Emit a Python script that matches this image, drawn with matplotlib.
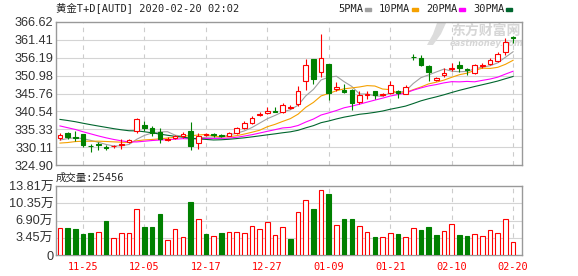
import matplotlib
matplotlib.use("Agg")
import matplotlib.pyplot as plt
from matplotlib.patches import Rectangle, Polygon
import numpy as np
import pandas as pd

W, H = 578, 276

# trading days shown (MM-DD)
dates = ["11-20", "11-21", "11-22", "11-25", "11-26", "11-27", "11-28", "11-29",
         "12-02", "12-03", "12-04", "12-05", "12-06", "12-09", "12-10", "12-11",
         "12-12", "12-13", "12-16", "12-17", "12-18", "12-19", "12-20", "12-23",
         "12-24", "12-25", "12-26", "12-27", "12-30", "12-31", "01-02", "01-03",
         "01-06", "01-07", "01-08", "01-09", "01-10", "01-13", "01-14", "01-15",
         "01-16", "01-17", "01-20", "01-21", "01-22", "01-23", "02-03", "02-04",
         "02-05", "02-06", "02-07", "02-10", "02-11", "02-12", "02-13", "02-14",
         "02-17", "02-18", "02-19", "02-20"]

opens = [332.7, 334.1, 333.0, 333.8, 330.5, 331.0, 330.2, 330.3, 330.7, 331.7,
         334.9, 336.6, 335.6, 334.6, 332.2, 332.9, 333.3, 334.7, 331.3, 333.6,
         333.9, 333.6, 333.5, 334.2, 335.7, 337.2, 339.5, 340.0, 340.7, 340.5,
         341.6, 342.6, 349.3, 355.7, 351.9, 354.3, 347.2, 346.9, 346.9, 343.4,
         345.4, 346.4, 345.2, 345.9, 346.4, 345.7, 356.5, 356.2, 353.8, 349.8,
         351.2, 353.0, 354.0, 352.9, 351.6, 353.9, 354.5, 355.2, 357.8, 362.2]
highs = [334.1, 334.6, 334.8, 334.0, 331.1, 331.6, 330.7, 330.8, 332.4, 332.6,
         338.6, 337.6, 336.3, 335.8, 333.0, 333.6, 334.6, 337.5, 334.2, 334.1,
         334.3, 334.0, 334.4, 336.0, 337.6, 339.2, 340.4, 341.9, 341.7, 343.0,
         342.3, 347.9, 355.9, 355.9, 363.2, 354.5, 349.1, 348.5, 347.2, 346.4,
         346.4, 346.5, 345.9, 349.3, 346.9, 348.3, 357.3, 357.0, 354.0, 350.7,
         353.1, 354.8, 355.2, 353.3, 354.5, 354.8, 356.1, 357.8, 361.9, 362.4]
lows = [332.2, 332.5, 331.9, 330.1, 328.7, 329.4, 329.4, 330.0, 329.7, 331.4,
        334.3, 334.8, 333.4, 331.4, 331.8, 332.6, 332.9, 329.2, 329.5, 333.3,
        333.2, 333.0, 333.3, 334.0, 335.4, 336.8, 339.2, 339.8, 340.3, 340.2,
        341.2, 342.2, 346.7, 348.5, 350.7, 343.8, 346.4, 346.0, 341.0, 342.6,
        344.3, 344.3, 345.0, 345.5, 344.5, 345.5, 355.4, 353.7, 349.5, 349.3,
        350.7, 352.4, 352.1, 351.2, 351.4, 353.3, 354.2, 355.0, 357.0, 360.5]
closes = [333.6, 333.1, 332.8, 330.6, 330.3, 330.8, 330.0, 330.5, 331.0, 332.2,
          338.4, 335.6, 334.1, 332.4, 332.6, 333.3, 334.0, 330.4, 333.5, 333.8,
          333.7, 333.4, 334.2, 335.7, 337.2, 338.7, 339.8, 340.6, 340.5, 342.4,
          341.8, 346.4, 354.2, 350.0, 356.2, 345.8, 347.8, 346.2, 343.1, 345.2,
          345.7, 345.2, 345.5, 348.1, 345.9, 347.6, 356.3, 354.0, 352.1, 350.2,
          351.8, 353.3, 353.1, 352.6, 354.0, 354.2, 355.4, 357.3, 360.8, 362.0]
# closes before the window, only used to seed the moving averages
prior_closes = [342.5, 343.5, 344.0, 343.0, 342.5, 341.5, 342.0, 341.0, 340.5, 339.5,
                343.5, 343.0, 344.0, 342.5, 343.0, 341.0, 340.0, 339.0, 338.5, 338.5,
                331.5, 330.0, 329.5, 330.5, 330.5, 331.0, 331.5, 332.0, 332.85]

volumes = [54200, 54900, 52900, 43000, 44400, 46300, 68700, 34500, 43700, 43700,
           91700, 56800, 56800, 81800, 30600, 52200, 36500, 105500, 72000, 42400,
           38400, 44400, 46300, 46300, 44400, 57500, 52200, 65400, 40400, 56200,
           31200, 85100, 109400, 91700, 129100, 121200, 59500, 72000, 72000, 57500,
           45700, 36500, 35800, 43700, 42400, 35800, 54200, 50300, 56200, 40400,
           47600, 61400, 40400, 38400, 41700, 37800, 49600, 43700, 72000, 25456]
vol_up = [1, 0, 0, 0, 0, 1, 0, 1, 1, 1, 1, 0, 0, 0, 1, 1, 1, 0, 1, 0,
          1, 0, 1, 1, 1, 1, 1, 1, 1, 1, 0, 1, 1, 0, 1, 0, 1, 0, 0, 1,
          1, 0, 1, 1, 0, 1, 1, 0, 0, 0, 1, 1, 0, 0, 1, 1, 1, 1, 1, 1]

price_ticks = ["324.90", "330.11", "335.33", "340.54", "345.76",
               "350.98", "356.19", "361.41", "366.62"]
vol_ticks = ["0", "3.45万", "6.90万", "10.35万", "13.81万"]
vol_max = 138100

ma_periods = [5, 10, 20, 30]
ma_colors = ["#a0a0a0", "#f5a100", "#ff00ff", "#00662e"]

UP = "#ff0000"
DOWN = "#008000"
GRID = "#d4d4d4"
FRAME = "#999999"
MONO = ["DejaVu Sans Mono", "Noto Sans CJK SC"]
SANS = ["Liberation Sans", "Noto Sans CJK SC"]

fig = plt.figure(figsize=(W / 100, H / 100), dpi=100)
fig.patch.set_facecolor("white")

ax = fig.add_axes([56 / W, 1 - 165 / H, 466 / W, 143 / H])
axv = fig.add_axes([56 / W, 1 - 255 / H, 466 / W, 69 / H])

x = np.arange(len(dates))
o = np.array(opens)
c = np.array(closes)
hi = np.array(highs)
lo = np.array(lows)
up = c >= o

# wicks then bodies
ax.vlines(x, lo, hi, colors=np.where(up, UP, DOWN), lw=0.8, zorder=3)
body_h = np.maximum(np.abs(c - o), 0.04)
ax.bar(x, body_h, bottom=np.minimum(o, c), width=0.6,
       facecolor=np.where(up, "white", DOWN), edgecolor=np.where(up, UP, DOWN),
       linewidth=0.8, zorder=4)

# moving averages
all_closes = pd.Series(prior_closes + closes)
n_prior = len(prior_closes)
for p, col in zip(ma_periods, ma_colors):
    ma = all_closes.rolling(p).mean().to_numpy()[n_prior:]
    ax.plot(x, ma, color=col, lw=0.8, zorder=2)

# volume bars
vu = np.array(vol_up, dtype=bool)
axv.bar(x, volumes, width=0.6, facecolor=np.where(vu, "white", DOWN),
        edgecolor=np.where(vu, UP, DOWN), linewidth=0.8, zorder=3)

label_idx = [i for i in range(len(dates)) if i % 8 == 3]

for a in (ax, axv):
    a.set_xlim(-0.52, 60.16)
    for s in a.spines.values():
        s.set_color(FRAME)
        s.set_linewidth(1.0)
    a.tick_params(length=0, pad=2)
    for i in label_idx:
        a.axvline(i, color="#cccccc", lw=0.8, ls=(0, (4, 4)), zorder=1)

pt = [float(t) for t in price_ticks]
ax.set_ylim(pt[0], pt[-1])
ax.set_yticks(pt)
ax.set_yticklabels(price_ticks, family=SANS, fontsize=9.2, color="#333333")
ax.set_xticks([])
for v in pt[1:-1]:
    ax.axhline(v, color=GRID, lw=0.8, zorder=1)

vt = np.linspace(0, vol_max, 5)
axv.set_ylim(0, vol_max)
axv.set_yticks(vt)
axv.set_yticklabels(vol_ticks, family=SANS, fontsize=9.2, color="#333333")
for v in vt[1:-1]:
    axv.axhline(v, color=GRID, lw=0.8, zorder=1)
axv.set_xticks(label_idx)
axv.set_xticklabels([dates[i] for i in label_idx], family=MONO, fontsize=7.4, color=UP)
axv.tick_params(axis="x", pad=5)

# watermark (logo swoosh + name)
logo = [(437, 23), (446, 23), (441, 34), (433, 45), (427, 45), (433, 34)]
ax.add_patch(Polygon([(px / W, 1 - py / H) for px, py in logo], closed=True,
                     transform=fig.transFigure, facecolor="#dcdcdc",
                     edgecolor="none", zorder=1.5))
ax.text(0.923, 0.935, "东方财富网", transform=ax.transAxes, ha="center", va="center",
        family=["Noto Sans CJK SC"], fontsize=10, fontweight="bold", color="#d6d6d6", zorder=1.5)
ax.text(0.925, 0.85, "eastmoney.com", transform=ax.transAxes, ha="center", va="center",
        family=["DejaVu Sans"], fontsize=6, fontweight="bold", style="italic",
        color="#d6d6d6", zorder=1.5)

# header texts
fig.text(56 / W, 1 - 8 / H, "黄金T+D[AUTD] 2020-02-20 02:02", family=MONO,
         fontsize=7.5, color="#222222", ha="left", va="center")
fig.text(56 / W, 1 - 178 / H, "成交量:%d" % volumes[-1], family=MONO,
         fontsize=7.5, color="#222222", ha="left", va="center")

lx = 338
for p, col in zip(ma_periods, ma_colors):
    lab = "%dPMA" % p
    fig.text(lx / W, 1 - 9 / H, lab, family=MONO, fontsize=7.5,
             color="#222222", ha="left", va="center")
    w = len(lab) * 6.1
    fig.add_artist(Rectangle(((lx + w + 3) / W, 1 - 11 / H), 6 / W, 2.5 / H,
                             transform=fig.transFigure, color=col))
    lx += w + 16.5

fig.savefig("out.png", dpi=100)
